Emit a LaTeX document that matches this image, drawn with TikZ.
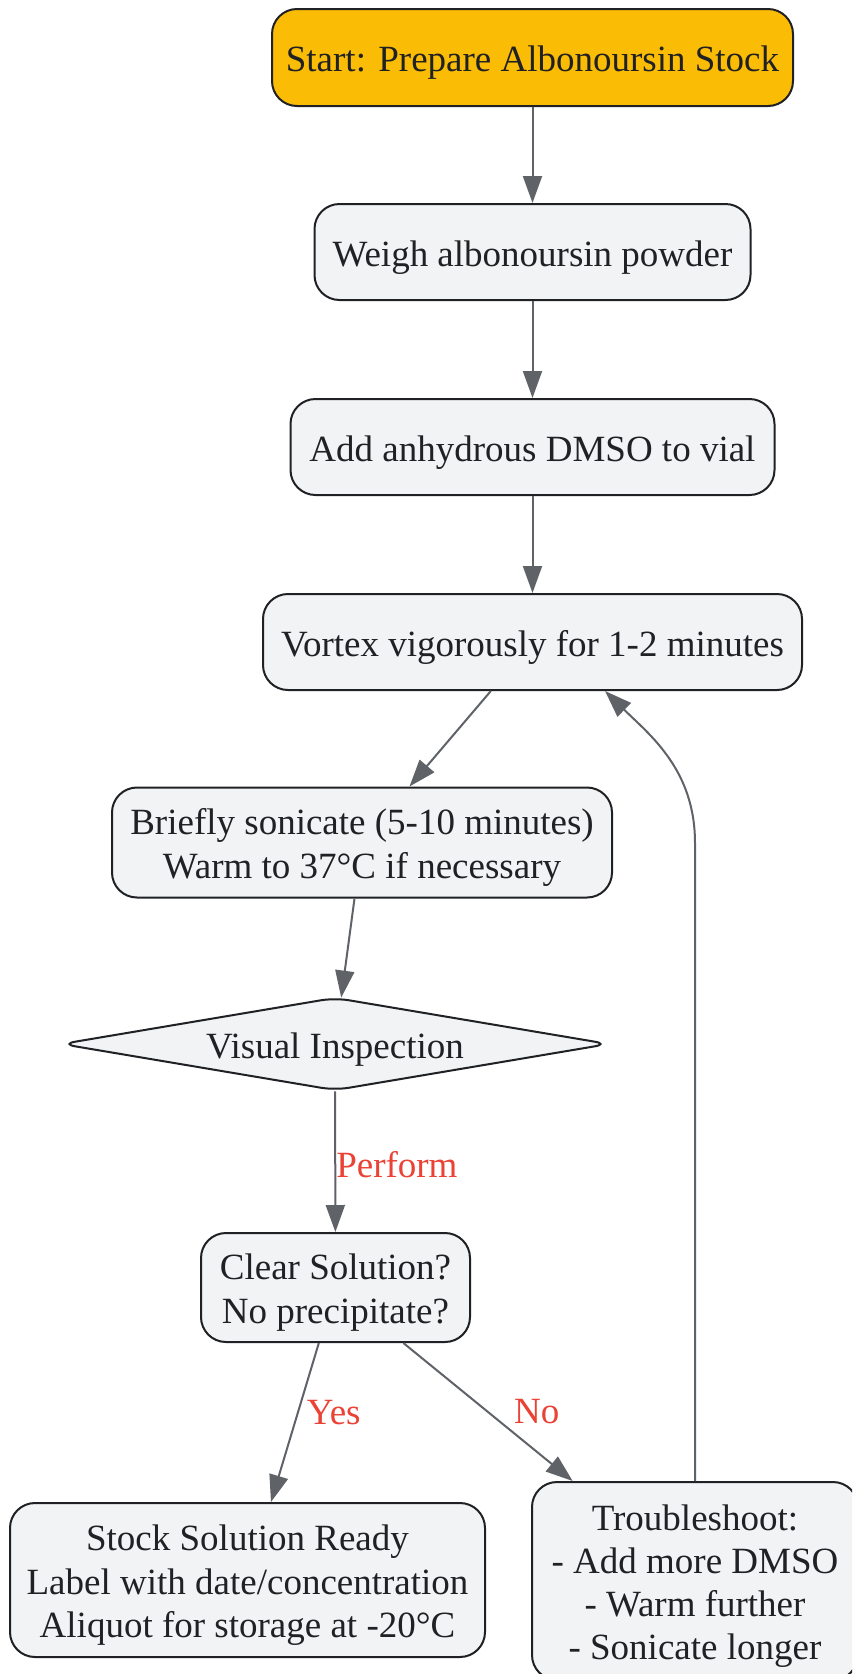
\documentclass[tikz,border=0pt]{standalone}
\usepackage{fontspec}
\setmainfont{Liberation Serif}
\usetikzlibrary{arrows.meta,shapes.geometric,calc}
\definecolor{nodefill}{HTML}{F1F3F4}
\definecolor{startfill}{HTML}{FBBC05}
\definecolor{edgegray}{HTML}{5F6368}
\definecolor{txt}{HTML}{202124}
\definecolor{lbl}{HTML}{EA4335}
\newcommand{\topstrut}{\rule{0pt}{36pt}}
\begin{document}
\begin{tikzpicture}[x=1pt,y=-1pt,
  base/.style={draw=txt, line width=2pt, text=txt, align=center, inner sep=0pt, font=\fontsize{37}{43.3}\selectfont},
  box/.style={base, fill=nodefill, rounded corners=25pt},
  startbox/.style={base, fill=startfill, rounded corners=25pt},
  decision/.style={base, fill=nodefill, diamond, aspect=5.9, rounded corners=14pt},
  conn/.style={draw=edgegray, line width=2pt, -{Triangle[length=27pt,width=19pt]}},
  elabel/.style={text=lbl, font=\fontsize{37}{43}\selectfont, inner sep=0pt, anchor=west}
]
\useasboundingbox (0,0) rectangle (852,1674);
\clip (0,0) rectangle (852,1674);
\fill[white] (0,0) rectangle (852,1674);

\node[startbox, minimum width=521pt, minimum height=97pt] (start) at (532.5,57.5) {\topstrut Start: Prepare Albonoursin Stock};
\node[box, minimum width=436pt, minimum height=96pt] (weigh) at (532.5,252) {\topstrut Weigh albonoursin powder};
\node[box, minimum width=484pt, minimum height=96pt] (dmso) at (532.5,447) {\topstrut Add anhydrous DMSO to vial};
\node[box, minimum width=539pt, minimum height=96pt] (vortex) at (532.5,642) {\topstrut Vortex vigorously for 1-2 minutes};
\node[box, minimum width=500pt, minimum height=110pt] (sonic) at (362,842.5) {\topstrut Briefly sonicate (5-10 minutes)\\Warm to 37°C if necessary};
\node[decision, minimum width=548pt, minimum height=93pt] (inspect) at (335,1044) {\topstrut Visual Inspection};
\node[box, minimum width=269pt, minimum height=109pt] (clear) at (335.5,1287.5) {\topstrut Clear Solution?\\No precipitate?};
\node[box, minimum width=475pt, minimum height=154pt] (ready) at (247.5,1580) {\topstrut Stock Solution Ready\\Label with date/concentration\\Aliquot for storage at -20°C};
\node[box, minimum width=326pt, minimum height=198pt] (trouble) at (695,1581) {\topstrut Troubleshoot:\\- Add more DMSO\\- Warm further\\- Sonicate longer};

\draw[conn] (start) -- (weigh);
\draw[conn] (weigh) -- (dmso);
\draw[conn] (dmso) -- (vortex);
\draw[conn] (vortex) -- (sonic);
\draw[conn] (sonic) -- (inspect);
\draw[conn] (inspect) -- node[elabel, pos=0.52] {Perform} (clear);
\draw[conn] (clear) -- node[elabel, pos=0.44, xshift=8pt] {Yes} (ready);
\draw[conn] (clear) -- node[elabel, pos=0.5, xshift=25pt] {No} (trouble);
\coordinate (bend) at (695,843);
\coordinate (loopend) at ([xshift=72.5pt]vortex.south);
\draw[conn] (trouble.north) -- (bend) .. controls (695,770) and (650,735) .. (loopend);
\end{tikzpicture}
\end{document}
